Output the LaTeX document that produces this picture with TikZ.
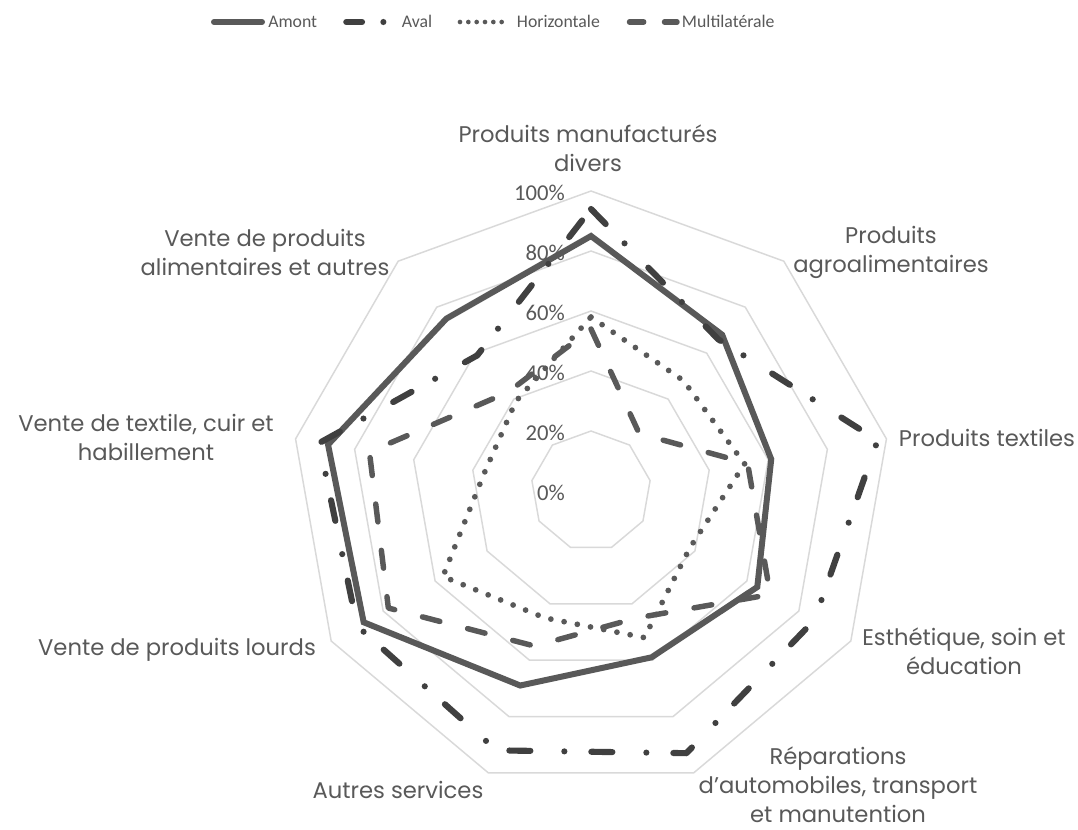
\documentclass[tikz,border=0pt]{standalone}
\definecolor{SeriesGray}{RGB}{89, 89, 89}
\definecolor{SeriesDark}{RGB}{64, 64, 64}
\definecolor{GridGray}{RGB}{217, 217, 217}
\definecolor{TextGray}{RGB}{89, 89, 89}
\usepackage{fontspec}
\setmainfont{Poppins}
\newfontfamily\tickfont{Carlito}
\usepackage{tikz}
\usetikzlibrary{calc}

\tikzset{
  gridring/.style={draw=GridGray, line width=1.1pt},
  amontline/.style={draw=SeriesGray, line width=4.5pt},
  avalline/.style={draw=SeriesDark, line width=4.6pt, line cap=round, line join=round,
    dash pattern=on 15.75pt off 20.25pt on 0pt off 25.5pt},
  horizline/.style={draw=SeriesGray, line width=4.3pt, line cap=round, dash pattern=on 0pt off 10.1pt},
  multiline/.style={draw=SeriesGray, line width=4.1pt, line cap=round, line join=round,
    dash pattern=on 13.5pt off 21.5pt},
  catlabel/.style={font=\fontsize{17}{21.75}\selectfont, text=TextGray, align=center, inner sep=0pt},
  ticklabel/.style={font=\tickfont\fontsize{17}{20}\selectfont, text=TextGray, anchor=east, inner sep=0pt},
  legendlabel/.style={font=\tickfont\fontsize{13.3}{15}\selectfont, text=TextGray, anchor=west,
    inner sep=0pt, text height=8.5pt, text depth=0pt},
}

\begin{document}
\begin{tikzpicture}[x=0.75pt, y=-0.75pt]
        \fill[white] (0,0) rectangle (1078,829);
        \useasboundingbox (0,0) rectangle (1078,829);

        % Legend
        \node[legendlabel] (lgAmont) at (268,22) {Amont};
        \draw[amontline, line cap=round] ($(lgAmont.west)+(-54,0)$) -- ($(lgAmont.west)+(-6,0)$);
        \node[legendlabel] (lgAval) at (401.7,22) {Aval};
        \draw[avalline, dash pattern=on 11.8pt off 16pt on 0pt off 20pt] ($(lgAval.west)+(-55.4,0)$) -- ($(lgAval.west)+(-18,0)$);
        \node[legendlabel] (lgHoriz) at (516.7,22) {Horizontale};
        \draw[horizline, line width=3.5pt, dash pattern=on 0pt off 6.25pt] ($(lgHoriz.west)+(-56.7,0)$) -- ($(lgHoriz.west)+(-15,0)$);
        \node[legendlabel] (lgMulti) at (681.7,22) {Multilatérale};
        \draw[multiline, dash pattern=on 10.65pt off 15.6pt] ($(lgMulti.west)+(-52.2,0)$) -- ($(lgMulti.west)+(-4.7,0)$);

        \begin{scope}[shift={(591,491)}]
            % Grid rings, 20% apart
            \foreach \r in {20,40,60,80,100} {
                \draw[gridring] (-90:{3*\r}) \foreach \k in {1,...,8} { -- ({40*\k-90}:{3*\r}) } -- cycle;
            }

            % Tick labels
            \foreach \t in {0,20,...,100} {
                \node[ticklabel] (tick\t) at (-26, {-3*\t+2}) {\t\%};
            }

            % Series
            \draw[amontline] (-90:{3*85}) \foreach \v [count=\k] in {68,61,64,59,69,87.5,89,75} { -- ({40*\k-90}:{3*\v}) } -- cycle;
            \draw[avalline] (-90:{3*94}) \foreach \v [count=\k] in {66,97,86,93,92,90,92,59} { -- ({40*\k-90}:{3*\v}) } -- cycle;
            \draw[horizline] (-90:{3*58}) \foreach \v [count=\k] in {48,52,38,52,45,57,36,39} { -- ({40*\k-90}:{3*\v}) } -- cycle;
            \draw[multiline] (-90:{3*54}) \foreach \v [count=\k] in {25,53,69,45,55,78,75,43} { -- ({40*\k-90}:{3*\v}) } -- cycle;
        \end{scope}

        % Category labels
        \node[catlabel] (catManuf) at (588,148) {Produits manufacturés\\divers};
        \node[catlabel] (catAgro) at (891,252) {Produits\\agroalimentaires};
        \node[catlabel] (catTextiles) at (987,438) {Produits textiles};
        \node[catlabel] (catEsthetique) at (964,651) {Esthétique, soin et\\éducation};
        \node[catlabel] (catReparations) at (838,785) {Réparations\\d'automobiles, transport\\et manutention};
        \node[catlabel] (catAutres) at (398,790) {Autres services};
        \node[catlabel] (catLourds) at (177,650) {Vente de produits lourds};
        \node[catlabel] (catVenteTextile) at (146,437) {Vente de textile, cuir et\\habillement};
        \node[catlabel] (catAlim) at (265,252) {Vente de produits\\alimentaires et autres};
\end{tikzpicture}
\end{document}
